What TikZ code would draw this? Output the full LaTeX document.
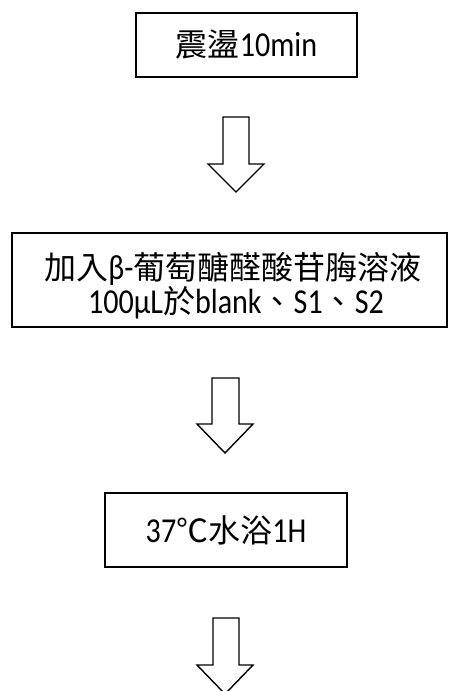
\documentclass[tikz,border=0pt]{standalone}
\usepackage{fontspec}
\setmainfont{Carlito}[FakeStretch=0.86]
\newfontfamily\cjkfont{Noto Sans CJK TC}
\newcommand\cj[1]{{\cjkfont\fontsize{32}{34}\selectfont #1}}
\begin{document}
\begin{tikzpicture}[x=1pt,y=-1pt,
  stepbox/.style={draw=black,line width=1.6pt,fill=white,inner sep=0pt,align=center,
    font=\fontsize{35}{34}\selectfont},
  blockarrow/.style={draw=black,line width=1.4pt,fill=white,line join=miter}]
\useasboundingbox (0,0) rectangle (459,691);
\clip (0,0) rectangle (459,691);
\node[stepbox,minimum width=221pt,minimum height=64pt] (b1) at (246.5,45)
  {\cj{震盪}10min};
\node[stepbox,minimum width=435pt,minimum height=94pt] (b2) at (229.5,280) {};
\node[inner sep=0pt,font=\fontsize{35}{34}\selectfont,anchor=base] (t2a) at (233,279)
  {\cj{加入}β-\cj{葡萄醣醛酸苷脢溶液}};
\node[inner sep=0pt,font=\fontsize{35}{34}\selectfont,anchor=base] (t2b) at (236,313)
  {100μL\cj{於}blank\cj{、}S1\cj{、}S2};
\node[stepbox,minimum width=242pt,minimum height=74pt] (b3) at (226,530)
  {37\cj{℃水浴}1H};
\draw[blockarrow] (223,117) -- (249,117) -- (249,164) -- (264,164) -- (236,192)
  -- (208,164) -- (223,164) -- cycle;
\draw[blockarrow] (212,378) -- (239,378) -- (239,424) -- (253,424) -- (225,453)
  -- (197,424) -- (212,424) -- cycle;
\draw[blockarrow] (213,618) -- (239,618) -- (239,665) -- (253,665) -- (225,694)
  -- (197,665) -- (213,665) -- cycle;
\end{tikzpicture}
\end{document}
